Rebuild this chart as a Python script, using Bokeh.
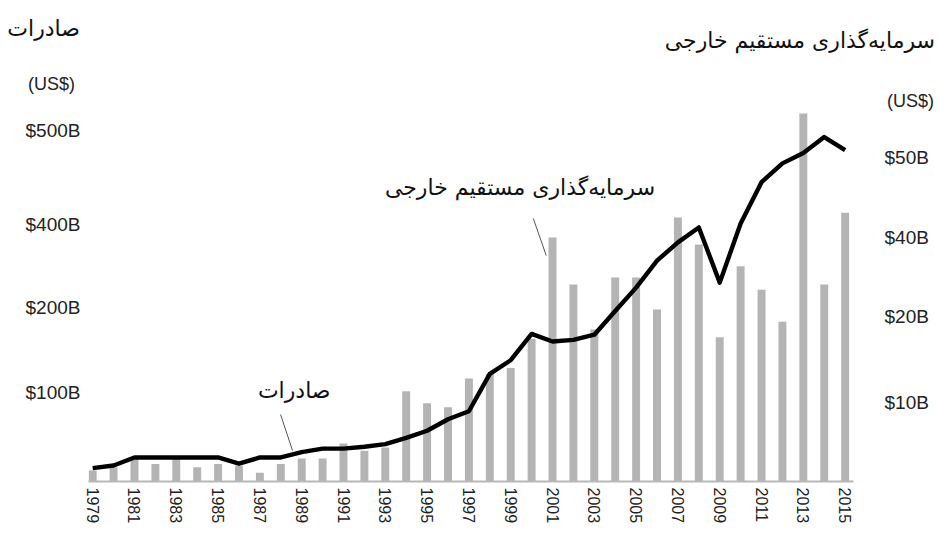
from bokeh.plotting import figure
from bokeh.layouts import column
from bokeh.models import (ColumnDataSource, Range1d, LinearAxis, FixedTicker, Label, Div,
                          CustomJSTransform, CustomJSTickFormatter)
from bokeh.transform import transform
from bokeh.embed import file_html
from bokeh.resources import INLINE

# ---------------- data ----------------
years = list(range(1979, 2016))
exports_bn = [15, 18, 27, 27, 27, 27, 27, 20, 27, 27,
              33, 37, 37, 39, 42, 49, 57, 70, 79,
              122, 138, 169, 160, 162, 168, 196, 248, 313, 357, 393,
              260, 401, 445, 465, 476, 493, 479]
fdi_bn = [1.4, 1.8, 2.8, 2.2, 2.9, 1.8, 2.2, 2.0, 1.1, 2.2,
          2.9, 2.9, 4.8, 3.9, 4.3,
          11.3, 9.9, 9.4, 12.8, 13.3, 14.0, 17.4,
          40.0, 28.1, 18.5, 29.9, 29.9, 21.8, 42.5, 38.2, 17.6, 32.7,
          26.8, 19.4, 55.5, 28.1, 43.1]
year_ticks = list(range(1979, 2016, 2))

export_tick_labels = ["$100B", "$200B", "$400B", "$500B"]
fdi_tick_labels = ["$10B", "$20B", "$40B", "$50B"]

# The original axes are stylised (unevenly spaced values): breakpoints of the scales
export_scale_values = [0, 100, 200, 400, 500]
export_scale_pos = [0, 1.011, 1.977, 2.920, 3.989]
fdi_scale_values = [0, 10, 20, 40, 50]
fdi_scale_pos = [0, 0.898, 1.875, 2.773, 3.682]

title_left = "صادرات"
title_right = "سرمایه\u200cگذاری مستقیم خارجی"
unit_text = "(US$)"

# ---------------- scales ----------------
interp_v = """
const out = new Float64Array(xs.length);
for (let k = 0; k < xs.length; k++) {
  const v = xs[k];
  let i = 0;
  while (i < bx.length - 2 && v > bx[i + 1]) { i++; }
  out[k] = by[i] + (v - bx[i]) * (by[i + 1] - by[i]) / (bx[i + 1] - bx[i]);
}
return out;
"""
interp_s = """
let i = 0;
while (i < bx.length - 2 && x > bx[i + 1]) { i++; }
return by[i] + (x - bx[i]) * (by[i + 1] - by[i]) / (bx[i + 1] - bx[i]);
"""
exp_tf = CustomJSTransform(args=dict(bx=export_scale_values, by=export_scale_pos),
                           func=interp_s, v_func=interp_v)
fdi_tf = CustomJSTransform(args=dict(bx=fdi_scale_values, by=fdi_scale_pos),
                           func=interp_s, v_func=interp_v)

fmt_code = """
let best = 0;
for (let i = 0; i < pos.length; i++) {
  if (Math.abs(pos[i] - tick) < Math.abs(pos[best] - tick)) { best = i; }
}
return labels[best];
"""

FA = "DejaVu Sans"
NUM_FONT = "Liberation Sans"
W = 938
TOP_H = 111
MAIN_H = 533 - TOP_H

# ---------------- header strip (titles and units) ----------------
def span(text, size, font, color, pos_css, rtl=False):
    d = ' dir="rtl"' if rtl else ''
    return (f'<span{d} style="position:absolute;{pos_css};font-family:\'{font}\';'
            f'font-size:{size};line-height:1;white-space:nowrap;color:{color};">{text}</span>')

header_html = (
    f'<div style="position:relative;width:{W}px;height:{TOP_H}px;margin:0;padding:0;">'
    + span(title_left, "22px", FA, "#111111", f"right:{W - 80}px;top:18px", rtl=True)
    + span(title_right, "22px", FA, "#111111", "right:3px;top:30px", rtl=True)
    + span(unit_text, "18px", NUM_FONT, "#222222", "left:28px;top:75px")
    + span(unit_text, "18px", NUM_FONT, "#222222", "left:887px;top:92px")
    + '</div>'
)
head = Div(text=header_html, width=W, height=TOP_H, margin=0)

# ---------------- main chart ----------------
src = ColumnDataSource(dict(year=years, exports=exports_bn, fdi=fdi_bn))

YTOP = 370 / 88
p = figure(width=W, height=MAIN_H, x_range=Range1d(1978.8, 2015.4), y_range=Range1d(0, YTOP),
           output_backend="svg", toolbar_location=None, title_location=None,
           min_border_left=88, min_border_right=85, min_border_top=0, min_border_bottom=52,
           margin=0)
p.extra_y_ranges = {"fdi": Range1d(0, YTOP)}
p.outline_line_color = None
p.xgrid.visible = False
p.ygrid.visible = False

p.vbar(x="year", top=transform("fdi", fdi_tf), bottom=0, width=0.38, source=src,
       y_range_name="fdi", fill_color="#b4b4b4", line_color=None)
p.line(x="year", y=transform("exports", exp_tf), source=src, line_color="black",
       line_width=4.4, line_join="round")

# x axis
xa = p.xaxis[0]
xa.ticker = FixedTicker(ticks=year_ticks)
xa.major_label_orientation = "vertical"
xa.axis_line_color = "#b8b8b8"
xa.axis_line_width = 2
xa.major_tick_line_color = None
xa.minor_tick_line_color = None
xa.major_tick_out = 0
xa.major_label_standoff = 6
xa.major_label_text_font = NUM_FONT
xa.major_label_text_font_size = "16px"
xa.major_label_text_color = "#222222"

# left axis (exports)
ya = p.yaxis[0]
ya.ticker = FixedTicker(ticks=export_scale_pos[1:])
ya.formatter = CustomJSTickFormatter(args=dict(pos=export_scale_pos[1:], labels=export_tick_labels),
                                     code=fmt_code)
ya.axis_line_color = None
ya.major_tick_line_color = None
ya.minor_tick_line_color = None
ya.major_tick_out = 0
ya.major_label_standoff = 8
ya.major_label_text_font = NUM_FONT
ya.major_label_text_font_size = "19px"
ya.major_label_text_color = "#222222"

# right axis (FDI)
ra = LinearAxis(y_range_name="fdi",
                ticker=FixedTicker(ticks=fdi_scale_pos[1:]),
                formatter=CustomJSTickFormatter(args=dict(pos=fdi_scale_pos[1:], labels=fdi_tick_labels),
                                                code=fmt_code))
ra.axis_line_color = None
ra.major_tick_line_color = None
ra.minor_tick_line_color = None
ra.major_tick_out = 0
ra.major_label_standoff = 31
ra.major_label_text_font = NUM_FONT
ra.major_label_text_font_size = "19px"
ra.major_label_text_color = "#222222"
p.add_layout(ra, "right")

def lab(x, y, text, size):
    p.add_layout(Label(x=x, y=y, text=text, text_align="right", text_baseline="middle",
                       text_font=FA, text_font_size=size, text_color="#111111"))

lab(2005.91, 3.34, title_right, "22px")
lab(1990.38, 1.034, title_left, "22px")

# leader lines for the in-chart annotations
p.segment(x0=[2000.08, 1987.99], y0=[2.989, 0.761], x1=[2000.70, 1988.56], y1=[2.568, 0.352],
          line_color="#555555", line_width=1)

layout = column(head, p, spacing=0)
open("out.html", "w").write(file_html(layout, INLINE))
